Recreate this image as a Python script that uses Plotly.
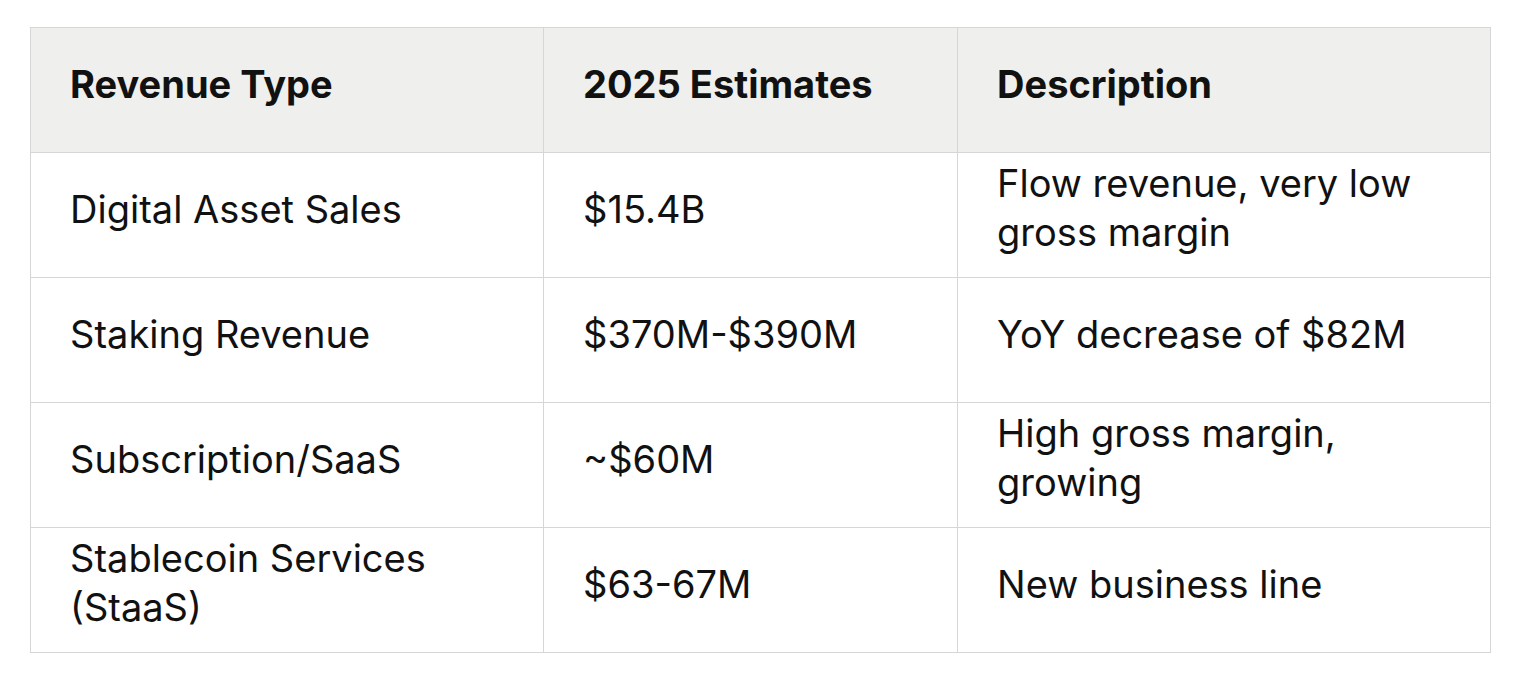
import plotly.graph_objects as go

headers = ["Revenue Type", "2025 Estimates", "Description"]
revenue_types = ["Digital Asset Sales", "Staking Revenue", "Subscription/SaaS", "Stablecoin Services<br>(StaaS)"]
estimates = ["$15.4B", "$370M-$390M", "~$60M", "$63-67M"]
descriptions = ["Flow revenue, very low<br>gross margin", "YoY decrease of $82M",
                "High gross margin,<br>growing", "New business line"]

font = "Inter, Noto Sans, sans-serif"
pad = "\u00a0\u00a0\u00a0"


def fmt(txt):
    # pad left, and push single-line cells down so they sit mid-cell
    lines = txt.split("<br>")
    out = "<br>".join(pad + ln for ln in lines)
    if len(lines) == 1:
        out = "<span style='font-size:14px'> </span><br>" + out
    return out


fig = go.Figure(go.Table(
    domain=dict(x=[22 / 1536, 1482 / 1536], y=[1 - 680 / 688, 1 - 19 / 688]),
    columnwidth=[513, 414, 533],
    header=dict(values=[fmt("<b>%s</b>" % h) for h in headers],
                fill_color="#efefed", line_color="#d6d6d6", align="left",
                height=125, font=dict(family=font, size=38, color="#111111")),
    cells=dict(values=[[fmt(v) for v in col] for col in (revenue_types, estimates, descriptions)],
               fill_color="white", line_color="#d6d6d6", align="left",
               height=125, font=dict(family=font, size=38, color="#111111")),
))
fig.update_layout(width=1536, height=688, margin=dict(l=0, r=0, t=0, b=0),
                  paper_bgcolor="white")
fig.write_html("out.html")
